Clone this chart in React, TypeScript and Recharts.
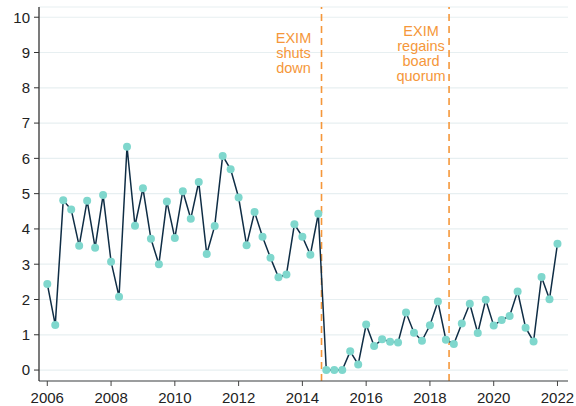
import React from "react";
import {
  ComposedChart,
  Line,
  XAxis,
  YAxis,
  CartesianGrid,
  ReferenceLine,
} from "recharts";

// Quarter labels, 2006Q1 .. 2022Q1
const quarters: string[] = [
  "2006Q1", "2006Q2", "2006Q3", "2006Q4",
  "2007Q1", "2007Q2", "2007Q3", "2007Q4",
  "2008Q1", "2008Q2", "2008Q3", "2008Q4",
  "2009Q1", "2009Q2", "2009Q3", "2009Q4",
  "2010Q1", "2010Q2", "2010Q3", "2010Q4",
  "2011Q1", "2011Q2", "2011Q3", "2011Q4",
  "2012Q1", "2012Q2", "2012Q3", "2012Q4",
  "2013Q1", "2013Q2", "2013Q3", "2013Q4",
  "2014Q1", "2014Q2", "2014Q3", "2014Q4",
  "2015Q1", "2015Q2", "2015Q3", "2015Q4",
  "2016Q1", "2016Q2", "2016Q3", "2016Q4",
  "2017Q1", "2017Q2", "2017Q3", "2017Q4",
  "2018Q1", "2018Q2", "2018Q3", "2018Q4",
  "2019Q1", "2019Q2", "2019Q3", "2019Q4",
  "2020Q1", "2020Q2", "2020Q3", "2020Q4",
  "2021Q1", "2021Q2", "2021Q3", "2021Q4",
  "2022Q1",
];

const values: number[] = [
  2.44, 1.28, 4.81, 4.55, 3.52, 4.8, 3.47, 4.96, 3.07, 2.08, 6.33, 4.09,
  5.15, 3.72, 3.0, 4.78, 3.74, 5.07, 4.29, 5.33, 3.29, 4.08, 6.07,
  5.69, 4.89, 3.54, 4.48, 3.78, 3.18, 2.63, 2.71, 4.13, 3.78, 3.27, 4.43,
  0, 0, 0, 0.53, 0.16, 1.29, 0.68, 0.87, 0.8, 0.78, 1.63, 1.06, 0.83, 1.27, 1.94,
  0.86, 0.74, 1.32, 1.88, 1.05, 1.99, 1.26, 1.42, 1.53, 2.23, 1.2, 0.81, 2.64, 2.01, 3.58,
];

const xTicks: number[] = [2006, 2008, 2010, 2012, 2014, 2016, 2018, 2020, 2022];
const yTicks: number[] = [0, 1, 2, 3, 4, 5, 6, 7, 8, 9, 10];

const events = [
  { x: 2014.6, lines: ["EXIM", "shuts", "down"], top: 43 },
  { x: 2018.6, lines: ["EXIM", "regains", "board", "quorum"], top: 36 },
];

const quarterToNum = (q: string) =>
  Number(q.slice(0, 4)) + (Number(q.slice(5)) - 1) / 4;

const data = quarters.map((q, i) => ({ t: quarterToNum(q), v: values[i] }));

const ORANGE = "#f5973a";
const NAVY = "#0f2d45";
const TEAL = "#7fd7cd";
const FONT = "'Liberation Sans', Arial, sans-serif";

const MultiLabel = (props: any) => {
  const { viewBox, lines, top } = props;
  if (!viewBox) return null;
  const cx = viewBox.x - 28;
  return (
    <g>
      {lines.map((l: string, i: number) => (
        <text
          key={i}
          x={cx}
          y={viewBox.y + top - 7 + i * 15}
          textAnchor="middle"
          fill={ORANGE}
          fontSize={14.5}
          fontFamily={FONT}
        >
          {l}
        </text>
      ))}
    </g>
  );
};

export default function App() {
  return (
    <div style={{ position: "absolute", left: 0, top: 0, background: "#fff" }}>
      <ComposedChart
        width={576}
        height={406}
        data={data}
        margin={{ top: 7, right: 8, bottom: 0, left: 0 }}
      >
        <CartesianGrid
          vertical={false}
          stroke="#e7eff1"
          strokeWidth={1.2}
        />
        <XAxis
          dataKey="t"
          type="number"
          domain={[2005.74, 2022.33]}
          ticks={xTicks}
          allowDataOverflow
          height={25}
          tickSize={5}
          tickMargin={6}
          stroke="#333"
          tick={{ fill: "#222", fontSize: 15, fontFamily: FONT }}
          axisLine={{ stroke: "#444", strokeWidth: 1.2 }}
          tickLine={{ stroke: "#444" }}
        />
        <YAxis
          type="number"
          domain={[-0.31, 10.29]}
          ticks={yTicks}
          allowDataOverflow
          width={39}
          tickSize={5}
          tickMargin={4}
          tick={{ fill: "#222", fontSize: 15, fontFamily: FONT }}
          axisLine={{ stroke: "#222", strokeWidth: 1.2 }}
          tickLine={{ stroke: "#333" }}
        />
        {events.map((e) => (
          <ReferenceLine
            key={e.x}
            x={e.x}
            stroke={ORANGE}
            strokeWidth={1.6}
            strokeDasharray="7 5"
            label={(p: any) => (
              <MultiLabel {...p} lines={e.lines} top={e.top} />
            )}
          />
        ))}
        <Line
          dataKey="v"
          type="linear"
          stroke={NAVY}
          strokeWidth={1.5}
          dot={{ r: 4, fill: TEAL, stroke: "none", fillOpacity: 1 }}
          activeDot={false}
          isAnimationActive={false}
        />
      </ComposedChart>
    </div>
  );
}
